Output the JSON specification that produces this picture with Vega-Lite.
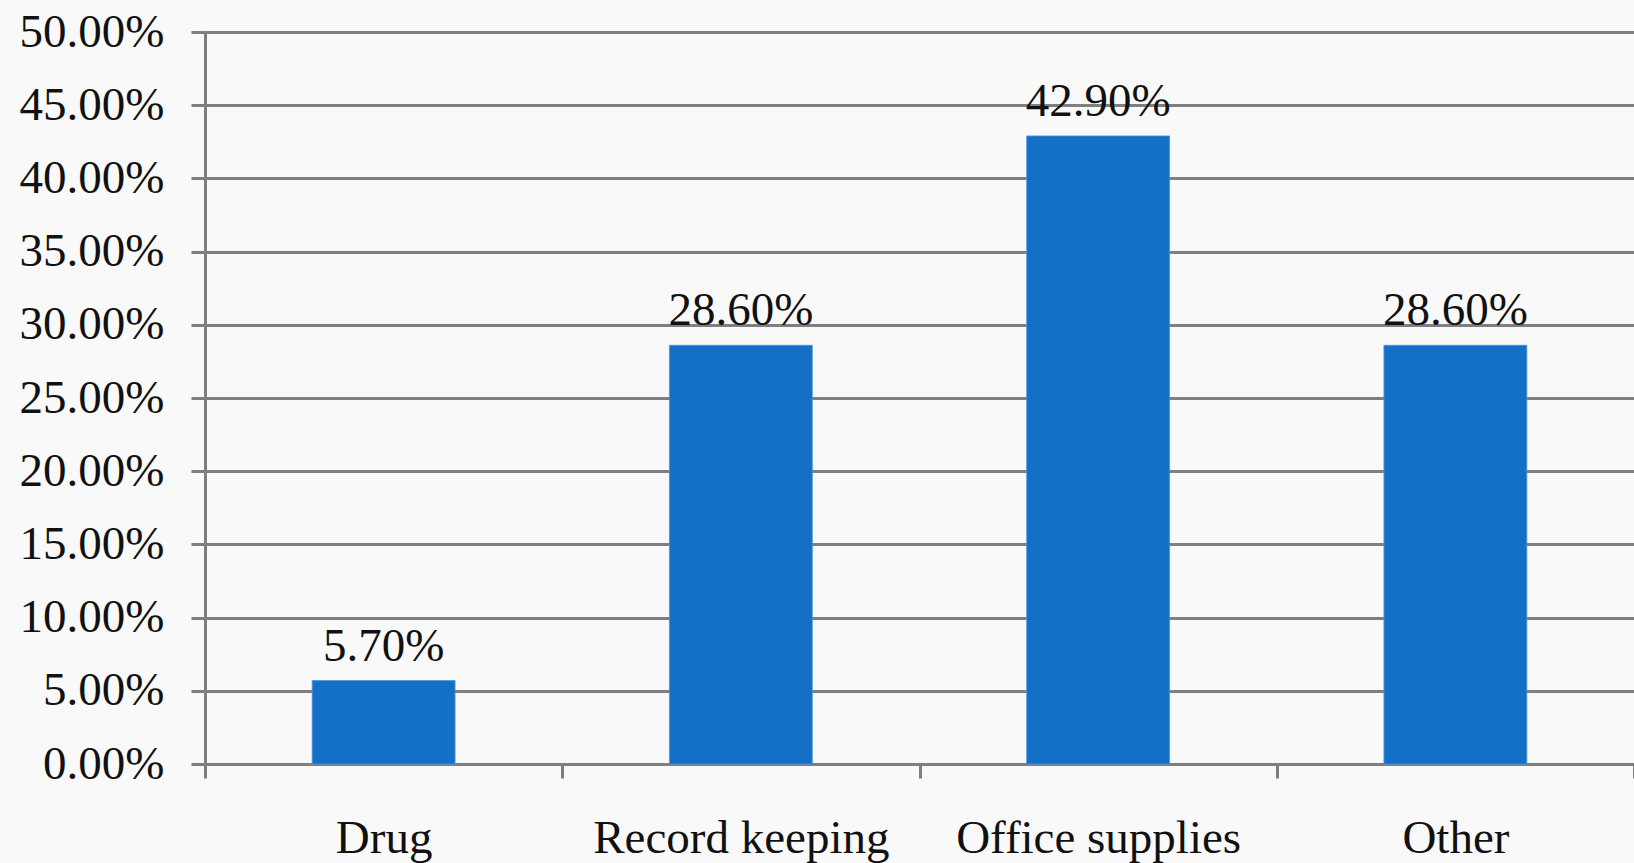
{
  "$schema": "https://vega.github.io/schema/vega-lite/v6.json",
  "autosize": "none",
  "width": 1429,
  "height": 732,
  "padding": {"left": 205, "top": 32, "right": 0, "bottom": 99},
  "background": "#f9f9f9",
  "config": {
    "view": {"stroke": null},
    "font": "Liberation Serif"
  },
  "data": {
    "values": [
      {"category": "Drug", "share": 0.057},
      {"category": "Record keeping", "share": 0.286},
      {"category": "Office supplies", "share": 0.429},
      {"category": "Other", "share": 0.286}
    ]
  },
  "encoding": {
    "x": {
      "field": "category",
      "type": "nominal",
      "sort": null,
      "scale": {"paddingInner": 0, "paddingOuter": 0},
      "axis": {
        "title": null,
        "labelAngle": 0,
        "labelFont": "Liberation Serif",
        "labelFontSize": 47,
        "labelColor": "#111111",
        "labelBaseline": "alphabetic",
        "labelPadding": 74,
        "labelLimit": 1000,
        "tickBand": "extent",
        "tickSize": 14,
        "tickWidth": 3,
        "tickColor": "#7f7f7f",
        "domainColor": "#7f7f7f",
        "domainWidth": 3,
        "grid": false
      }
    },
    "y": {
      "field": "share",
      "type": "quantitative",
      "scale": {"domain": [0, 0.5], "nice": false},
      "axis": {
        "title": null,
        "format": ".2%",
        "values": [0, 0.05, 0.1, 0.15, 0.2, 0.25, 0.3, 0.35, 0.4, 0.45, 0.5],
        "labelFont": "Liberation Serif",
        "labelFontSize": 47,
        "labelColor": "#111111",
        "labelPadding": 27,
        "tickSize": 14,
        "tickWidth": 3,
        "tickColor": "#7f7f7f",
        "domainColor": "#7f7f7f",
        "domainWidth": 3,
        "grid": true,
        "gridColor": "#7f7f7f",
        "gridWidth": 3
      }
    }
  },
  "layer": [
    {
      "mark": {
        "type": "bar",
        "width": {"band": 0.4},
        "color": "#1470c6",
        "stroke": "#4a94dc",
        "strokeWidth": 0.8
      }
    },
    {
      "mark": {
        "type": "text",
        "baseline": "alphabetic",
        "dy": -20,
        "font": "Liberation Serif",
        "fontSize": 47,
        "color": "#111111"
      },
      "encoding": {
        "text": {"field": "share", "type": "quantitative", "format": ".2%"}
      }
    }
  ]
}
